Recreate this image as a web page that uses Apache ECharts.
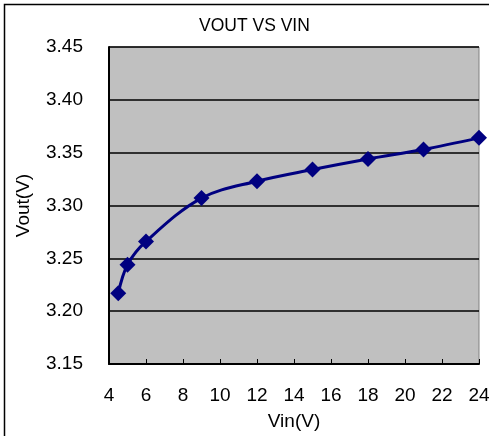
<!DOCTYPE html>
<html>
<head>
<meta charset="utf-8">
<script src="https://cdn.jsdelivr.net/npm/echarts@6/dist/echarts.min.js"></script>
<style>
  html, body { margin: 0; padding: 0; background: #fff; }
  #chart { width: 489px; height: 436px; }
</style>
</head>
<body>
<div id="chart"></div>
<script>
var vin = [4.5, 5, 6, 9, 12, 15, 18, 21, 24];
var vout = [3.217, 3.244, 3.266, 3.307, 3.323, 3.334, 3.344, 3.353, 3.364];
var yTicks = [3.15, 3.20, 3.25, 3.30, 3.35, 3.40, 3.45];

var font = 'Arial, "Liberation Sans", sans-serif';
var chart = echarts.init(document.getElementById('chart'), null, { renderer: 'canvas' });
chart.setOption({
  animation: false,
  backgroundColor: '#fff',
  title: {
    text: 'VOUT VS VIN',
    left: 194, top: 12,
    textStyle: { fontFamily: font, fontSize: 17.5, fontWeight: 'normal', color: '#000' }
  },
  grid: {
    left: 109, right: 10, top: 47, bottom: 72,
    outerBoundsMode: 'none', containLabel: false,
    show: true, backgroundColor: '#c0c0c0', borderColor: '#808080', borderWidth: 1
  },
  xAxis: {
    type: 'value', min: 4, max: 24, interval: 2,
    name: 'Vin(V)', nameLocation: 'middle', nameGap: 48,
    nameTextStyle: { fontFamily: font, fontSize: 19, color: '#000' },
    axisLine: { show: true, onZero: false, lineStyle: { color: '#000', width: 2 } },
    axisTick: { show: true, inside: true, length: 5, lineStyle: { color: '#000' } },
    axisLabel: { fontFamily: font, fontSize: 19, color: '#000', margin: 22 },
    splitLine: { show: false }
  },
  yAxis: {
    type: 'value', min: yTicks[0], max: yTicks[yTicks.length - 1], interval: 0.05,
    name: 'Vout(V)', nameLocation: 'middle', nameGap: 76, nameRotate: 90,
    nameTextStyle: { fontFamily: font, fontSize: 19, color: '#000' },
    axisLine: { show: true, onZero: false, lineStyle: { color: '#000', width: 2 } },
    axisTick: { show: false },
    axisLabel: {
      fontFamily: font, fontSize: 19, color: '#000', margin: 26,
      formatter: function (v) { return v.toFixed(2); }
    },
    splitLine: { show: true, lineStyle: { color: '#000', width: 1.5 } }
  },
  series: [{
    type: 'line',
    data: vin.map(function (x, i) { return [x, vout[i]]; }),
    smooth: 0.35,
    symbol: 'diamond',
    symbolSize: 16,
    clip: false,
    lineStyle: { color: '#000080', width: 3 },
    itemStyle: { color: '#000080' }
  }],
  graphic: [{
    type: 'rect',
    shape: { x: 4.5, y: 4.5, width: 500, height: 500 },
    style: { fill: 'none', stroke: '#000', lineWidth: 1.5 },
    silent: true
  }]
});
</script>
</body>
</html>
